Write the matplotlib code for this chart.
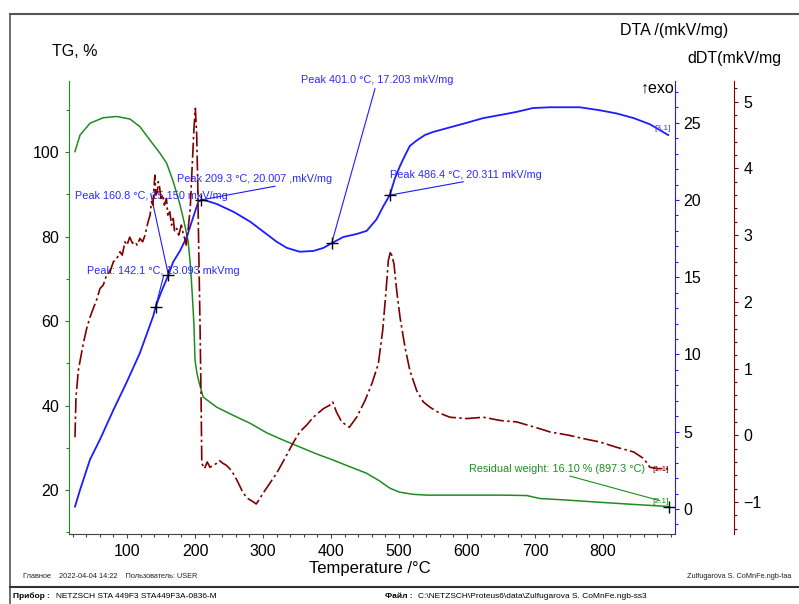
import matplotlib
matplotlib.use("Agg")
import matplotlib.pyplot as plt
from matplotlib.lines import Line2D
from matplotlib.ticker import MultipleLocator

plt.rcParams['font.family'] = ['Liberation Sans', 'DejaVu Sans']

# ---- data ----
# TG, %
tg_T = [23.5, 30.9, 45.6, 65, 84.8, 104.4, 119, 133.8, 148.5, 158.4, 168, 178, 185, 190,
        193.6, 196.6, 198.5, 200, 203, 206.3, 212, 232, 256, 281, 306, 330, 354, 378, 403,
        428, 452, 470, 487, 501, 520, 541, 600, 650, 688, 707, 750, 786, 845, 897.3]
tg = [100.1, 104, 106.8, 108.1, 108.4, 107.8, 106, 102.8, 99.7, 97.3, 93, 87.5, 82.7, 78.8,
      72.5, 64.6, 59, 50.8, 47.5, 45.3, 42, 39.6, 37.7, 35.8, 33.5, 31.8, 30.2, 28.6, 27.1,
      25.5, 24, 22.3, 20.4, 19.5, 19.0, 18.8, 18.8, 18.8, 18.7, 18.0, 17.6, 17.2, 16.6, 16.1]

# DTA /(mkV/mg)
dta_T = [23.5, 30.9, 45.6, 60.3, 79.9, 99.5, 119, 138.7, 142.1, 150, 160.8, 168, 177.9, 187.8,
         197.5, 205, 209.3, 217, 232, 256.4, 281, 296, 305, 320, 335, 354, 374, 389, 401, 418,
         438, 452.5, 467, 477, 486.4, 494, 501.5, 509, 516, 526, 538, 550, 575, 600, 624, 649,
         673, 697, 722, 766, 796, 820, 845, 869, 896]
dta = [0.15, 1.23, 3.2, 4.5, 6.4, 8.2, 10.1, 12.5, 13.093, 14.0, 15.15, 16.0, 16.7, 17.6,
       18.9, 19.9, 20.007, 19.95, 19.74, 19.24, 18.6, 18.1, 17.8, 17.3, 16.9, 16.65, 16.7, 16.9,
       17.203, 17.6, 17.8, 18.0, 18.75, 19.6, 20.311, 21.4, 22.2, 22.9, 23.5, 23.85, 24.2, 24.4,
       24.7, 25.0, 25.3, 25.5, 25.7, 25.95, 26.0, 26.0, 25.8, 25.6, 25.3, 24.9, 24.2]

# dDT (mkV/mg)
ddt_T = [23.5, 25, 28.4, 35.8, 40.7, 45.6, 50.4, 56, 60.3, 65, 70, 75, 79.9, 85, 89.7, 93, 97,
         100, 104, 108, 111.8, 115, 119, 123, 126.5, 131, 134, 136, 138, 141, 142.5, 144.6, 146,
         147.5, 150, 152.5, 155, 158, 160, 163, 165.5, 168, 170, 173, 176, 180, 183, 185, 187,
         190, 193, 195, 198.5, 200.5, 202.5, 204, 205, 207.4, 209, 210, 214, 218, 222, 227, 232,
         236, 241, 246, 251, 256, 263, 271, 278, 286, 290, 294, 300, 310, 320, 332, 344, 354,
         364, 374, 389, 398, 402.5, 408, 415.7, 427, 437.7, 450, 460, 469.6, 476, 481, 484.3,
         487.7, 492.6, 496.6, 501.5, 508.8, 516, 526, 535.7, 545.6, 560, 575, 600, 624, 650,
         673, 700, 722, 750, 771, 795, 820, 845, 860, 869, 880, 894, 897]
ddt = [-0.03, 0.57, 0.97, 1.38, 1.6, 1.77, 1.9, 2.05, 2.2, 2.25, 2.4, 2.45, 2.6, 2.65, 2.75,
       2.7, 2.9, 2.85, 2.97, 2.88, 2.9, 2.85, 2.95, 2.9, 3.0, 3.2, 3.3, 3.5, 3.45, 3.9, 3.6,
       3.65, 3.8, 3.75, 3.55, 3.6, 3.45, 3.55, 3.3, 3.35, 3.15, 3.25, 3.05, 3.1, 3.0, 3.15, 3.0,
       2.95, 2.85, 3.1, 3.4, 3.85, 4.6, 4.9, 4.5, 3.8, 3.1, 1.65, 0.5, -0.42, -0.5, -0.4, -0.48,
       -0.45, -0.42, -0.38, -0.42, -0.45, -0.5, -0.57, -0.7, -0.87, -0.95, -1.0, -1.03, -0.97,
       -0.87, -0.72, -0.57, -0.35, -0.12, 0.05, 0.15, 0.27, 0.4, 0.45, 0.5, 0.35, 0.2, 0.12,
       0.27, 0.52, 0.77, 1.07, 1.57, 2.17, 2.62, 2.76, 2.57, 2.17, 1.77, 1.32, 0.97, 0.67, 0.5,
       0.42, 0.33, 0.27, 0.25, 0.27, 0.22, 0.2, 0.12, 0.05, 0.0, -0.05, -0.1, -0.18, -0.25,
       -0.35, -0.48, -0.5, -0.5, -0.55]

# peak labels: (temperature, value, text)
peaks = [(142.1, 13.093, "Peak: 142.1 °C, 13.093 mkVmg"),
         (160.8, 15.150, "Peak 160.8 °C, 15.150 mkV/mg"),
         (209.3, 20.007, "Peak 209.3 °C, 20.007 ,mkV/mg"),
         (401.0, 17.203, "Peak 401.0 °C, 17.203 mkV/mg"),
         (486.4, 20.311, "Peak 486.4 °C, 20.311 mkV/mg")]
# where each label text starts and where its leader line starts (T, DTA)
peak_text_pos = [(40.6, 15.42), (23.5, 20.26), (173.0, 21.36), (356.0, 27.75), (486.8, 21.62)]
peak_line_pos = [(153.7, 15.06), (134.9, 20.4), (317.6, 20.89), (464.7, 27.2), (594.6, 21.18)]

res_T, res_tg = 897.3, 16.10

W, H = 799, 604
fig = plt.figure(figsize=(W / 100, H / 100), dpi=100)


def fx(x):
    return x / W


def fy(y):
    return 1 - y / H


green = '#1f8c1f'
blue = '#1c1cff'
red = '#800000'

ax = fig.add_axes([fx(69), fy(534), fx(675) - fx(69), fy(81) - fy(534)])
ax2 = ax.twinx()
ax3 = ax.twinx()

ax.plot(tg_T, tg, color=green, lw=1.1)
ax2.plot(dta_T, dta, color=blue, lw=1.3)
ax3.plot(ddt_T, ddt, color=red, lw=1.2, linestyle=(0, (9, 2, 1.5, 2)))

ax.set_xlim(14.7, 905.9)
ax.set_ylim(9.6, 116.8)
ax2.set_ylim(-1.62, 27.7)
ax3.set_ylim(-1.48, 5.31)

# spines
for s in ['top', 'right']:
    ax.spines[s].set_visible(False)
ax.spines['left'].set_color(green)
ax.spines['bottom'].set_color('#444444')
for s in ['top', 'left', 'bottom']:
    ax2.spines[s].set_visible(False)
    ax3.spines[s].set_visible(False)
ax2.spines['right'].set_color(blue)
ax3.spines['right'].set_color(red)
ax3.spines['right'].set_position(('axes', (734 - 69) / 606))

ax.xaxis.set_major_locator(MultipleLocator(100))
ax.xaxis.set_minor_locator(MultipleLocator(20))
ax.yaxis.set_major_locator(MultipleLocator(20))
ax.yaxis.set_minor_locator(MultipleLocator(10))
ax2.yaxis.set_major_locator(MultipleLocator(5))
ax2.yaxis.set_minor_locator(MultipleLocator(1))
ax3.yaxis.set_major_locator(MultipleLocator(1))
ax3.yaxis.set_minor_locator(MultipleLocator(0.2))

ax.set_xticks([100, 200, 300, 400, 500, 600, 700, 800])
ax.tick_params(axis='x', which='major', length=3, width=0.8, color='#444444', labelsize=11.5, pad=4)
ax.tick_params(axis='x', which='minor', length=2, width=0.8, color='#444444')
ax.tick_params(axis='y', which='major', length=3, width=0.8, color=green, labelsize=11.5, pad=4)
ax.tick_params(axis='y', which='minor', length=2, width=0.8, color=green)
ax2.tick_params(axis='y', which='major', length=3, width=0.8, color=blue, labelsize=11.5, pad=3)
ax2.tick_params(axis='y', which='minor', length=2, width=0.8, color=blue)
ax3.tick_params(axis='y', which='major', length=3, width=0.8, color=red, labelsize=11.5, pad=4)
ax3.tick_params(axis='y', which='minor', length=2, width=0.8, color=red)

# peak markers and labels
for (t, v, label), (tx, ty), (lx, ly) in zip(peaks, peak_text_pos, peak_line_pos):
    ax2.plot([lx, t], [ly, v], color=blue, lw=0.8)
    ax2.plot(t, v, marker='+', color='black', markersize=9, mew=1)
    ax2.text(tx, ty, label, color='#2a2aff', fontsize=7.8, va='center', ha='left')

ax2.text(876, 24.6, "[3.1]", color='#3a3aff', fontsize=6, va='center', ha='left')

# residual weight
ax.plot([res_T], [res_tg], marker='+', color='black', markersize=9, mew=1)
ax.plot([751.5, res_T - 14], [res_tg + 7.2, res_tg + 1.4], color=green, lw=0.8)
ax.text(603, res_tg + 8.8, "Residual weight: 16.10 % (897.3 °C)", color=green, fontsize=7.8,
        va='center', ha='left')
ax.text(872, res_tg + 8.8, "[1.1]", color=red, fontsize=6, va='center', ha='left')
ax.text(872, res_tg + 1.1, "[2.1]", color=green, fontsize=6, va='center', ha='left')

# axis titles
fig.text(fx(52), fy(52), "TG, %", fontsize=11.5, va='center', ha='left')
fig.text(fx(620), fy(31), "DTA /(mkV/mg)", fontsize=11.5, va='center', ha='left')
fig.text(fx(687), fy(58), "dDT(mkV/mg", fontsize=11.5, va='center', ha='left')
fig.text(fx(641), fy(88), "↑exo", fontsize=11.5, va='center', ha='left')
fig.text(fx(370), fy(569), "Temperature /°C", fontsize=12, va='center', ha='center')

# footer
fig.text(fx(23), fy(577), "Главное    2022-04-04 14:22    Пользователь: USER", fontsize=5.3,
         va='center', ha='left', color='#222222')
fig.text(fx(687), fy(576), "Zulfugarova S. CoMnFe.ngb-taa", fontsize=5.3, va='center',
         ha='left', color='#222222')
fig.text(fx(13), fy(596), "Прибор :", fontsize=6, fontweight='bold', va='center', ha='left')
fig.text(fx(56), fy(596), "NETZSCH STA 449F3 STA449F3A-0836-M", fontsize=6, va='center',
         ha='left')
fig.text(fx(385), fy(596), "Файл :", fontsize=6, fontweight='bold', va='center', ha='left')
fig.text(fx(418), fy(596), "C:\\NETZSCH\\Proteus6\\data\\Zulfugarova S. CoMnFe.ngb-ss3",
         fontsize=6, va='center', ha='left')

# printout frame
fig.add_artist(Line2D([fx(10), 1], [fy(14), fy(14)], color='#555555', lw=1.5))
fig.add_artist(Line2D([fx(10), fx(10)], [fy(14), 0], color='#555555', lw=1.2))
fig.add_artist(Line2D([fx(10), 1], [fy(587), fy(587)], color='#333333', lw=1.5))

fig.savefig("out.png", dpi=100)
